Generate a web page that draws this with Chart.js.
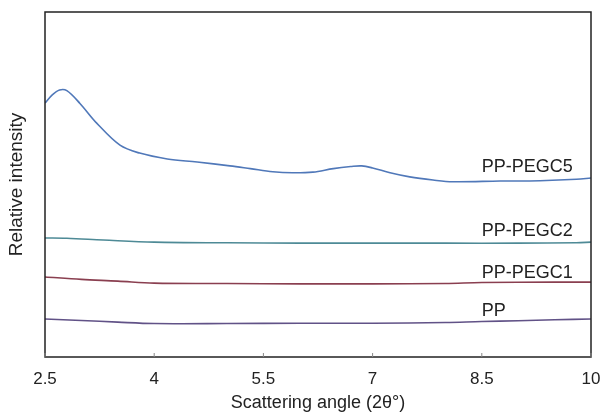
<!DOCTYPE html>
<html>
<head>
<meta charset="utf-8">
<script src="https://cdn.jsdelivr.net/npm/chart.js@4/dist/chart.umd.min.js"></script>
<style>
  html, body { margin: 0; padding: 0; background: #fff; }
  #wrap { width: 602px; height: 414px; }
</style>
</head>
<body>
<div id="wrap"><canvas id="waxsChart" width="602" height="414"></canvas></div>
<script>
// x tick labels (2θ, degrees)
const xTicks = [2.5, 4, 5.5, 7, 8.5, 10];

// series (relative intensity, arbitrary units 0-100)
const pegc5X = [2.5, 2.6, 2.7, 2.8, 2.98, 3.21, 3.53, 3.8, 4.18, 4.59, 5.04, 5.32, 5.63, 5.9, 6.18, 6.46, 6.7, 6.85, 7.0, 7.24, 7.51, 7.83, 8.1, 8.75, 9.3, 9.8, 10];
const pegc5Y = [73.6, 76.0, 77.4, 77.2, 73.5, 67.8, 61.4, 59.1, 57.4, 56.5, 55.4, 54.6, 53.7, 53.4, 53.6, 54.6, 55.2, 55.4, 54.8, 53.4, 52.2, 51.3, 50.8, 51.0, 51.1, 51.5, 51.9];

const pegc2X = [2.5, 2.8, 3.3, 4, 5, 6, 7, 8, 9, 9.8, 10];
const pegc2Y = [34.5, 34.4, 33.9, 33.3, 33.1, 33.0, 33.0, 33.0, 33.0, 33.1, 33.3];

const pegc1X = [2.5, 3, 3.5, 4, 5, 6, 7, 8, 8.5, 9.5, 10];
const pegc1Y = [23.2, 22.5, 22.0, 21.4, 21.3, 21.2, 21.2, 21.3, 21.6, 21.7, 21.7];

const ppX = [2.5, 3, 3.5, 4, 5, 6, 7, 8, 8.5, 9, 9.5, 10];
const ppY = [11.0, 10.6, 10.1, 9.7, 9.7, 9.8, 9.8, 10.0, 10.3, 10.5, 10.8, 11.0];

// curve labels, placed in data coordinates
const labelNames = ['PP-PEGC5', 'PP-PEGC2', 'PP-PEGC1', 'PP'];
const labelX = [8.5, 8.5, 8.5, 8.5];
const labelY = [55.1, 36.5, 24.3, 13.3];

const toPoints = (xs, ys) => xs.map((x, i) => ({ x: x, y: ys[i] }));

const FONT = 'Liberation Sans, Arial, Helvetica, sans-serif';

// frame around the plot + inward tick marks + curve labels
const framePlugin = {
    id: 'frame',
    afterDraw(chart) {
        const { ctx, chartArea: a, scales } = chart;
        ctx.save();
        ctx.strokeStyle = '#222';
        ctx.lineWidth = 1.5;
        ctx.strokeRect(a.left, a.top, a.right - a.left, a.bottom - a.top);

        ctx.lineWidth = 1;
        ctx.strokeStyle = '#888';
        xTicks.forEach(t => {
            const px = scales.x.getPixelForValue(t);
            ctx.beginPath();
            ctx.moveTo(px, a.bottom);
            ctx.lineTo(px, a.bottom - 4);
            ctx.stroke();
        });

        ctx.fillStyle = '#222';
        ctx.font = '18px ' + FONT;
        ctx.textBaseline = 'middle';
        ctx.textAlign = 'left';
        labelNames.forEach((name, i) => {
            ctx.fillText(name, scales.x.getPixelForValue(labelX[i]), scales.y.getPixelForValue(labelY[i]));
        });
        ctx.restore();
    }
};

const lineSet = (xs, ys, color) => ({
    data: toPoints(xs, ys),
    borderColor: color,
    borderWidth: 1.6,
    pointRadius: 0,
    fill: false,
    tension: 0.35
});

new Chart(document.getElementById('waxsChart').getContext('2d'), {
    type: 'line',
    data: {
        datasets: [
            lineSet(pegc5X, pegc5Y, '#5078b9'),
            lineSet(pegc2X, pegc2Y, '#4e8a96'),
            lineSet(pegc1X, pegc1Y, '#8a3f50'),
            lineSet(ppX, ppY, '#615287')
        ]
    },
    options: {
        responsive: false,
        animation: false,
        layout: { padding: { left: 0, top: 12, right: 11, bottom: 0 } },
        plugins: {
            legend: { display: false },
            tooltip: { enabled: false }
        },
        scales: {
            x: {
                type: 'linear',
                min: 2.5,
                max: 10,
                afterBuildTicks: scale => { scale.ticks = xTicks.map(v => ({ value: v })); },
                afterFit: scale => {
                    scale.height = 57;
                    scale.paddingLeft = 0;
                    scale.paddingRight = 0;
                },
                grid: { display: false, drawTicks: false },
                border: { display: false },
                ticks: {
                    color: '#222',
                    padding: 12,
                    maxRotation: 0,
                    font: { family: FONT, size: 17 }
                },
                title: {
                    display: true,
                    text: 'Scattering angle (2θ°)',
                    color: '#222',
                    padding: { top: 0, bottom: 0 },
                    font: { family: FONT, size: 18 }
                }
            },
            y: {
                min: 0,
                max: 100,
                afterFit: scale => { scale.width = 45; },
                grid: { display: false, drawTicks: false },
                border: { display: false },
                ticks: { display: false },
                title: {
                    display: true,
                    text: 'Relative intensity',
                    color: '#222',
                    padding: { top: 5, bottom: 0 },
                    font: { family: FONT, size: 19 }
                }
            }
        }
    },
    plugins: [framePlugin]
});
</script>
</body>
</html>
